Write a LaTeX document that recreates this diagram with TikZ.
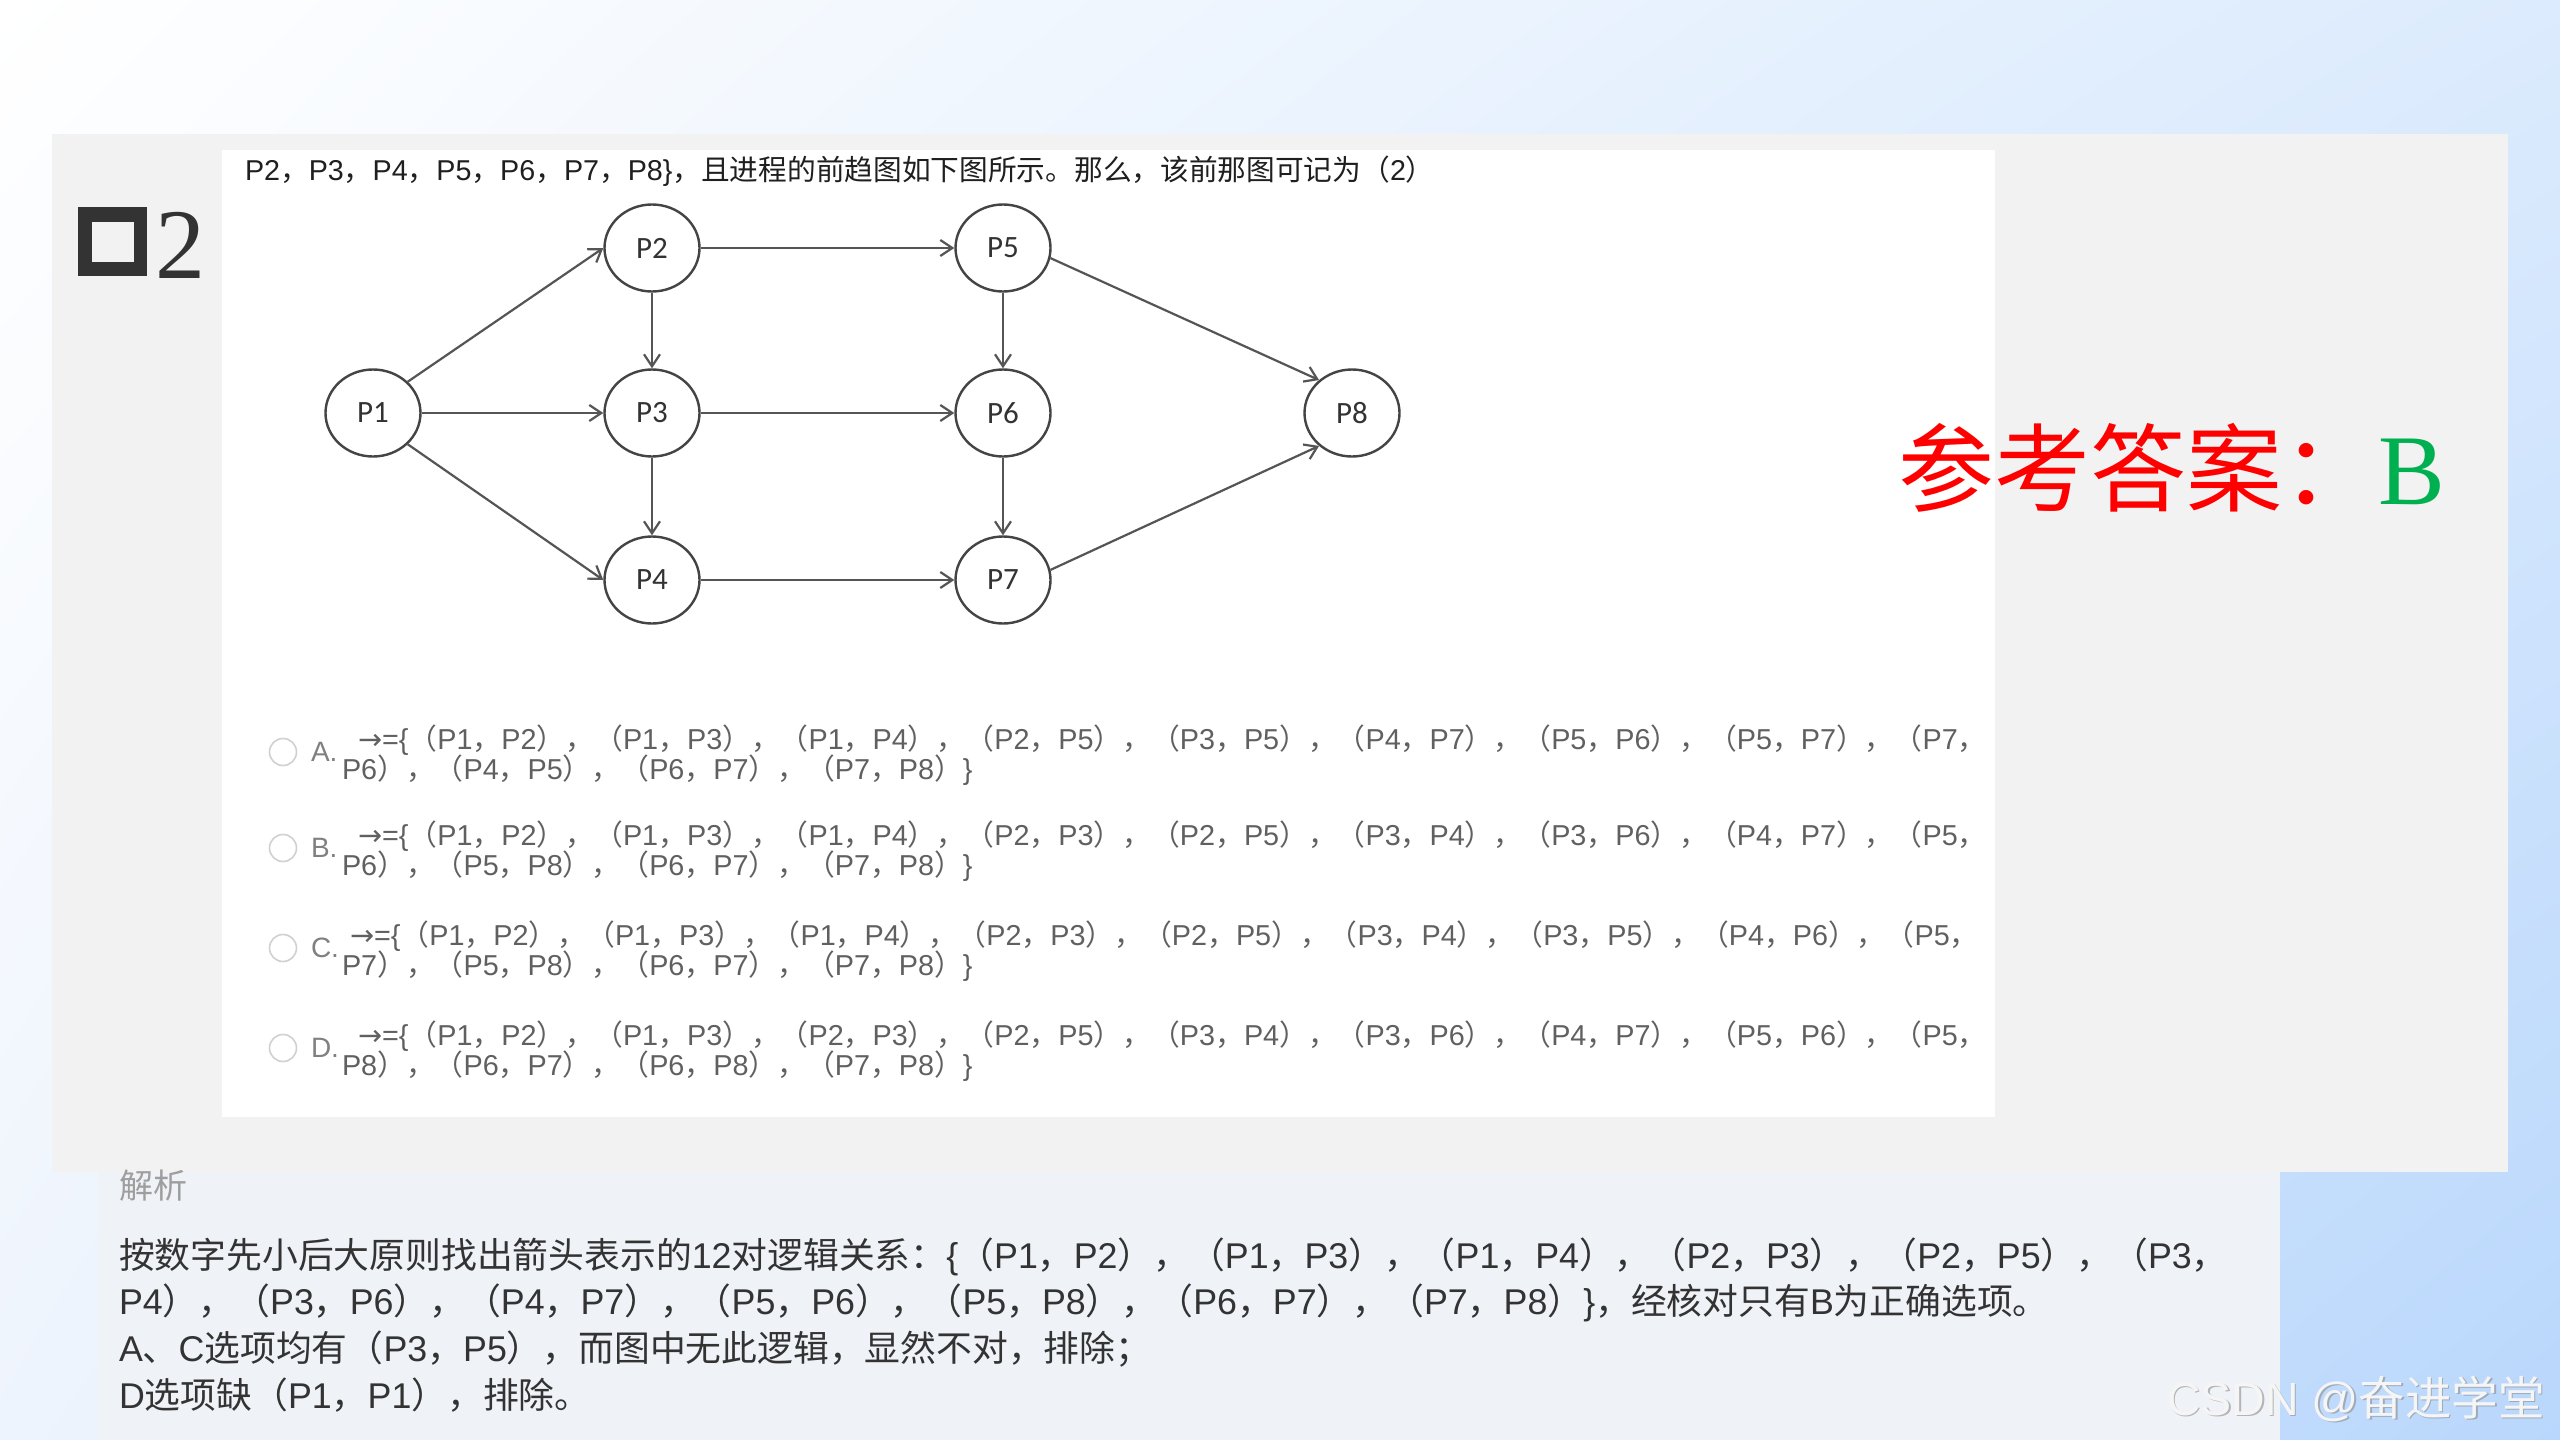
\documentclass[tikz,border=0pt]{standalone}
\usepackage{fontspec}
\setmainfont{Liberation Sans}
\newfontfamily\zhfont{Noto Sans CJK SC}
\newfontfamily\carlitofont{Carlito}
\newfontfamily\seriffont{Liberation Serif}
\newfontfamily\dejavufont{DejaVu Sans}
\usetikzlibrary{shapes.geometric,arrows.meta,shadings}
\newcommand\zh[1]{{\zhfont #1}}
\newcommand\Lp{\zh{（}}
\newcommand\Rp{\zh{）}}
\newcommand\Zc{\zh{，}}
\newcommand\tup[2]{\Lp#1\Zc#2\Rp}
\newcommand\arrw{{\dejavufont →}}
\definecolor{bgTR}{HTML}{DCEBFD}
\definecolor{bgBL}{HTML}{EEF4FD}
\definecolor{bgBR}{HTML}{B9D7FC}
\definecolor{panelgray}{HTML}{F2F2F2}
\definecolor{anapanel}{HTML}{EFF2F7}
\definecolor{optgray}{HTML}{606060}
\definecolor{nodeline}{HTML}{444444}
\definecolor{edgegray}{HTML}{555555}
\definecolor{radiogray}{HTML}{D0D0D0}
\definecolor{ansgreen}{HTML}{00B050}
\begin{document}
\begin{tikzpicture}[x=1pt,y=-1pt,
  txt/.style={anchor=base west, inner sep=0pt, outer sep=0pt},
  optline/.style={txt, text=optgray, font=\fontsize{28.8}{34}\selectfont},
  optlabel/.style={txt, text=optgray!80, font=\fontsize{28}{32}\selectfont},
  radio/.style={circle, draw=radiogray, line width=1.6pt, minimum size=27pt, inner sep=0pt},
  proc/.style={ellipse, draw=nodeline, line width=2.4pt, minimum width=95pt, minimum height=87pt, inner sep=0pt, fill=white, text=black!80, font=\carlitofont\fontsize{31}{36}\selectfont},
  dep/.style={draw=edgegray, line width=2.2pt, -{Straight Barb[length=12pt,width=16pt]}},
  anatext/.style={txt, text=black!80, font=\fontsize{35.8}{42}\selectfont}
]
\useasboundingbox (0,0) rectangle (2560,1440);
% background
\shade[upper left=white, upper right=bgTR, lower left=bgBL, lower right=bgBR] (0,0) rectangle (2560,1440);
\fill[panelgray] (52,134) rectangle (2508,1172);
\fill[white] (222,150) rectangle (1995,1117);
\fill[anapanel] (98,1172) rectangle (2280,1440);
% checkbox and number
\fill[black!80] (78,207) rectangle (147,276);
\fill[panelgray] (92,222) rectangle (134,262);
\node[txt, text=black!80, font=\seriffont\fontsize{100}{110}\selectfont] (num) at (155,278) {2};
% header
\node[txt, text=black!88, font=\fontsize{28.7}{34}\selectfont] (hdr) at (245,180)
  {P2\Zc P3\Zc P4\Zc P5\Zc P6\Zc P7\Zc P8\}\zh{，且进程的前趋图如下图所示。那么，该前那图可记为}\Lp 2\Rp};
% graph
\node[proc] (P1) at (373,413) {P1};
\node[proc] (P2) at (652,248) {P2};
\node[proc] (P3) at (652,413) {P3};
\node[proc] (P4) at (652,580) {P4};
\node[proc] (P5) at (1003,248) {P5};
\node[proc] (P6) at (1003,413) {P6};
\node[proc] (P7) at (1003,580) {P7};
\node[proc] (P8) at (1352,413) {P8};
\draw[dep] (P1.42) -- (P2.west);
\draw[dep] (P1.east) -- (P3.west);
\draw[dep] (P1.-42) -- (P4.west);
\draw[dep] (P2.south) -- (P3.north);
\draw[dep] (P3.south) -- (P4.north);
\draw[dep] (P2.east) -- (P5.west);
\draw[dep] (P3.east) -- (P6.west);
\draw[dep] (P4.east) -- (P7.west);
\draw[dep] (P5.south) -- (P6.north);
\draw[dep] (P6.south) -- (P7.north);
\draw[dep] (P5.-12) -- (P8.135);
\draw[dep] (P7.12) -- (P8.-135);
% answer
\node[txt, text=red, font=\zhfont\fontsize{96}{110}\selectfont] (ans) at (1898,504) {参考答案：};
\node[txt, text=ansgreen, font=\seriffont\fontsize{100}{110}\selectfont] (ansB) at (ans.base east) {B};
% options
\node[radio] (ra) at (283,752) {};
\node[optlabel] (la) at (311,761) {A.};
\node[optline] (a1) at (358,749) {\arrw=\{\tup{P1}{P2}\Zc\tup{P1}{P3}\Zc\tup{P1}{P4}\Zc\tup{P2}{P5}\Zc\tup{P3}{P5}\Zc\tup{P4}{P7}\Zc\tup{P5}{P6}\Zc\tup{P5}{P7}\Zc\Lp P7\Zc};
\node[optline] (a2) at (342,779) {P6\Rp\Zc\tup{P4}{P5}\Zc\tup{P6}{P7}\Zc\tup{P7}{P8}\}};
\node[radio] (rb) at (283,848) {};
\node[optlabel] (lb) at (311,857) {B.};
\node[optline] (b1) at (358,845) {\arrw=\{\tup{P1}{P2}\Zc\tup{P1}{P3}\Zc\tup{P1}{P4}\Zc\tup{P2}{P3}\Zc\tup{P2}{P5}\Zc\tup{P3}{P4}\Zc\tup{P3}{P6}\Zc\tup{P4}{P7}\Zc\Lp P5\Zc};
\node[optline] (b2) at (342,875) {P6\Rp\Zc\tup{P5}{P8}\Zc\tup{P6}{P7}\Zc\tup{P7}{P8}\}};
\node[radio] (rc) at (283,948) {};
\node[optlabel] (lc) at (311,957) {C.};
\node[optline] (c1) at (350,945) {\arrw=\{\tup{P1}{P2}\Zc\tup{P1}{P3}\Zc\tup{P1}{P4}\Zc\tup{P2}{P3}\Zc\tup{P2}{P5}\Zc\tup{P3}{P4}\Zc\tup{P3}{P5}\Zc\tup{P4}{P6}\Zc\Lp P5\Zc};
\node[optline] (c2) at (342,975) {P7\Rp\Zc\tup{P5}{P8}\Zc\tup{P6}{P7}\Zc\tup{P7}{P8}\}};
\node[radio] (rd) at (283,1048) {};
\node[optlabel] (ld) at (311,1057) {D.};
\node[optline] (d1) at (358,1045) {\arrw=\{\tup{P1}{P2}\Zc\tup{P1}{P3}\Zc\tup{P2}{P3}\Zc\tup{P2}{P5}\Zc\tup{P3}{P4}\Zc\tup{P3}{P6}\Zc\tup{P4}{P7}\Zc\tup{P5}{P6}\Zc\Lp P5\Zc};
\node[optline] (d2) at (342,1075) {P8\Rp\Zc\tup{P6}{P7}\Zc\tup{P6}{P8}\Zc\tup{P7}{P8}\}};
% analysis
\node[txt, text=black!38, font=\zhfont\fontsize{34}{40}\selectfont] (jx) at (119,1198) {解析};
\node[anatext] (t1) at (119,1268) {\zh{按数字先小后大原则找出箭头表示的}12\zh{对逻辑关系：}\{\tup{P1}{P2}\Zc\tup{P1}{P3}\Zc\tup{P1}{P4}\Zc\tup{P2}{P3}\Zc\tup{P2}{P5}\Zc\Lp P3\Zc};
\node[anatext] (t2) at (119,1314) {P4\Rp\Zc\tup{P3}{P6}\Zc\tup{P4}{P7}\Zc\tup{P5}{P6}\Zc\tup{P5}{P8}\Zc\tup{P6}{P7}\Zc\tup{P7}{P8}\}\zh{，经核对只有}B\zh{为正确选项。}};
\node[anatext] (t3) at (119,1361) {A\zh{、}C\zh{选项均有}\tup{P3}{P5}\zh{，而图中无此逻辑，显然不对，排除；}};
\node[anatext] (t4) at (119,1408) {D\zh{选项缺}\tup{P1}{P1}\zh{，排除。}};
% watermark
\node[txt, text=black!45, opacity=0.6, font=\fontsize{46.5}{52}\selectfont] (wms) at (2168.5,1416.5) {CSDN @\zh{奋进学堂}};
\node[txt, text=black!4, font=\fontsize{46.5}{52}\selectfont] (wm) at (2167,1415) {CSDN @\zh{奋进学堂}};
\end{tikzpicture}
\end{document}
